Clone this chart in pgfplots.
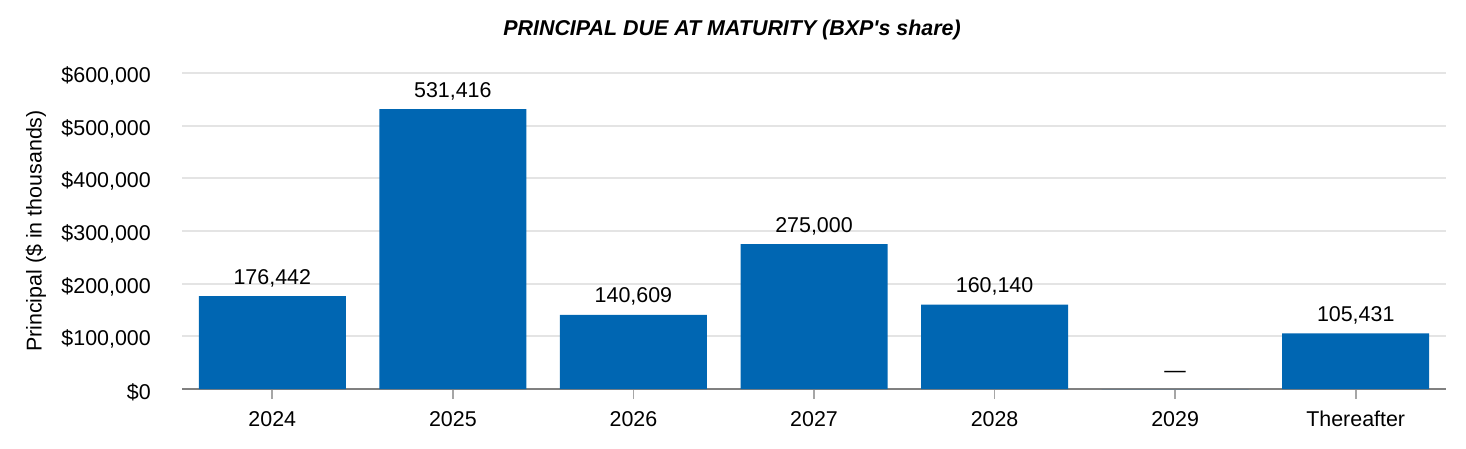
\documentclass[border=0pt]{standalone}
\usepackage{pgfplots}
\usepackage{pgfplotstable}
\pgfplotsset{compat=1.18}
\usepackage{fontspec}
\setmainfont{Liberation Sans}
\definecolor{barblue}{HTML}{0066B2}
\definecolor{gridgray}{HTML}{E4E4E4}
\definecolor{axgray}{HTML}{808080}
\pgfplotstableread{
x y lab
0 176442 176,442
1 531416 531,416
2 140609 140,609
3 275000 275,000
4 160140 160,140
5 0 —
6 105431 105,431
}\datatable
\begin{document}
\begin{tikzpicture}
\begin{axis}[
  name=ax,
  scale only axis,
  width=1264bp, height=316bp,
  xmin=-0.5, xmax=6.5,
  ymin=0, ymax=600000,
  axis x line*=bottom,
  axis y line*=left,
  y axis line style={draw=none},
  x axis line style={draw=axgray, line width=1.6bp},
  ytick={0,100000,200000,300000,400000,500000,600000},
  yticklabels={{\$0},{\$100,000},{\$200,000},{\$300,000},{\$400,000},{\$500,000},{\$600,000}},
  xtick={0,1,2,3,4,5,6},
  xticklabels={2024,2025,2026,2027,2028,2029,Thereafter},
  tick align=outside,
  ytick style={draw=none},
  xtick style={draw=axgray!70, line width=1.6bp},
  major tick length=10bp,
  ymajorgrids,
  grid style={draw=gridgray, line width=1.8bp},
  every tick label/.append style={font=\fontsize{21.5}{25}\selectfont, inner sep=0pt},
  yticklabel style={anchor=east, xshift=-21bp, yshift=-3bp},
  xticklabel style={anchor=base, yshift=-27bp},
  scaled y ticks=false,
]
\addplot[ybar, bar width=147bp, fill=barblue, draw=none,
  point meta=explicit symbolic,
  nodes near coords,
  every node near coord/.append style={anchor=base, yshift=12bp, inner sep=0pt, font=\fontsize{21.5}{25}\selectfont, text=black}]
  table[x=x, y=y, meta=lab] {\datatable};
\end{axis}
\node[font=\bfseries\itshape\fontsize{21.5}{25}\selectfont, anchor=center] at ([xshift=550bp,yshift=359bp]ax.south west) {PRINCIPAL DUE AT MATURITY (BXP\textquotesingle s share)};
\node[rotate=90, font=\fontsize{21.5}{25}\selectfont, anchor=center] at ([xshift=-146bp]ax.west) {Principal (\$ in thousands)};
\pgfresetboundingbox
\path ([xshift=-182bp,yshift=-59bp]ax.south west) rectangle ([xshift=20bp,yshift=73bp]ax.north east);
\end{tikzpicture}
\end{document}
